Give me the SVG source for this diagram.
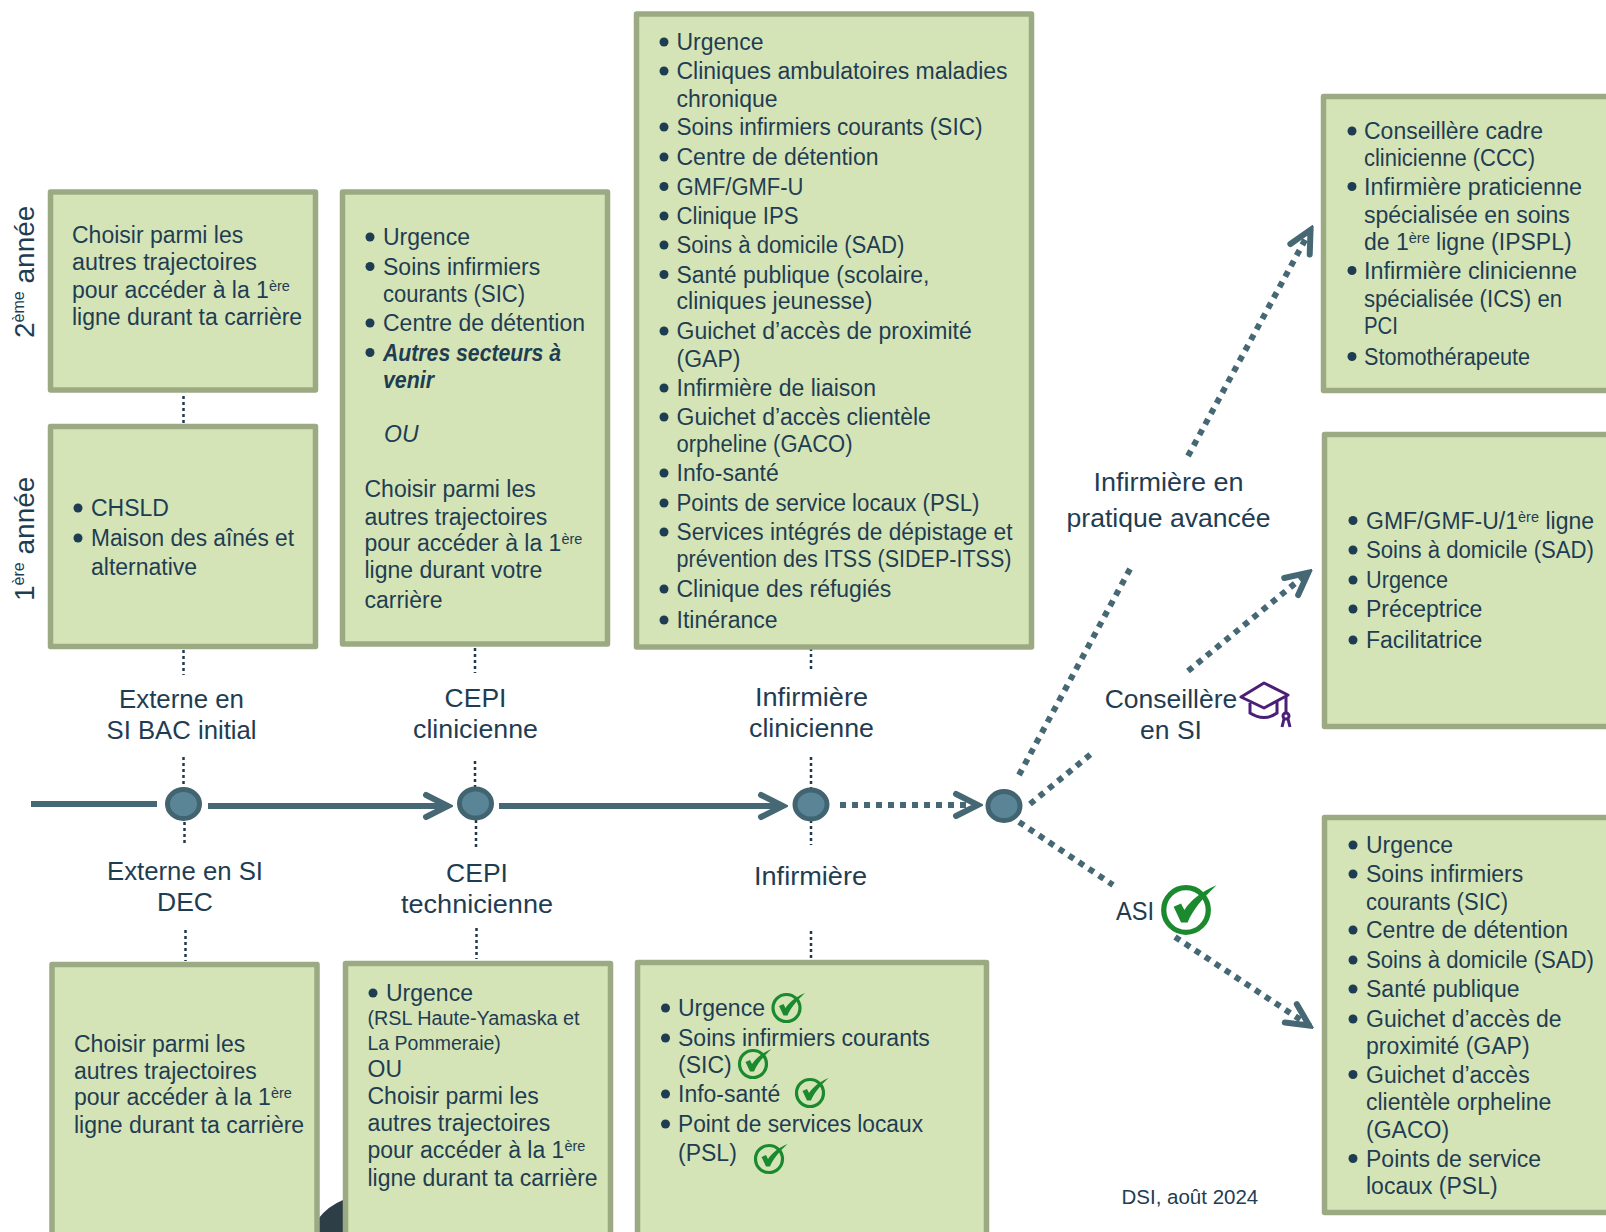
<svg xmlns="http://www.w3.org/2000/svg" width="1606" height="1232" viewBox="0 0 1606 1232">
<defs>
<style>
text{font-family:"Liberation Sans",Arial,sans-serif;fill:#1f3d52;font-size:23px}
.lab{font-size:26.5px;text-anchor:middle}
.small{font-size:19.5px}
.box{fill:#d5e4b6;stroke:#9caa84;stroke-width:5.5;stroke-linejoin:round}
.dot{fill:#5a8597;stroke:#426470;stroke-width:5}
.sol{fill:none;stroke:#466874;stroke-width:6}
.dash{fill:none;stroke:#466874;stroke-width:6;stroke-dasharray:6 6}
.tick{fill:none;stroke:#1f3a4f;stroke-width:2.5;stroke-dasharray:3 3}
.sup{font-size:14.5px}
.b{fill:#1f3d52;r:4.5px}
</style>
<marker id="ah" markerUnits="userSpaceOnUse" markerWidth="34" markerHeight="38" viewBox="0 0 34 38" refX="30" refY="19" orient="auto"><path d="M7,8 L29,19 L7,30" fill="none" stroke="#466874" stroke-width="6" stroke-linecap="round"/></marker>
<g id="chk"><circle cx="0" cy="0" r="13.500" fill="none" stroke="#1b8a2f" stroke-width="3.200"/><path d="M-7.500,-2 L-3,-4 L-1,0 C3,-6 9,-11 18.500,-15 C10,-7 4,0 1,7.500 L-3,7.500 Z" fill="#1b8a2f"/></g>
</defs>
<rect width="1606" height="1232" fill="#fff"/>
<path id="corner-shape" d="M318,1232 L318,1219 Q328,1206 343,1200 L343,1232 Z" fill="#2e3e47"/>
<g id="connectors">
<path class="sol" d="M31,804H157"/>
<path class="sol" d="M208,806H449" marker-end="url(#ah)"/>
<path class="sol" d="M499,806H784" marker-end="url(#ah)"/>
<path class="dash" d="M840,805H979" marker-end="url(#ah)"/>
<path class="dash" d="M1019,775L1130,569"/>
<path class="dash" d="M1188,456L1311,229" marker-end="url(#ah)"/>
<path class="dash" d="M1030,804L1091,754"/>
<path class="dash" d="M1188,671L1309,572" marker-end="url(#ah)"/>
<path class="dash" d="M1019,822L1113,885"/>
<path class="dash" d="M1175,937L1310,1026" marker-end="url(#ah)"/>
<path class="tick" d="M183.500,396V424M183.500,650V675M183.500,757V788M184.500,822V845M185.500,930V961M475,648V673M475,761V788M476,820V847M476.500,928V959M811,648V671M811,757V788M811,820V845M811,931V959"/>
</g>
<g id="timeline-dots">
<ellipse id="dot-1" class="dot" cx="183.500" cy="804" rx="16" ry="14.500"/>
<ellipse id="dot-2" class="dot" cx="475.500" cy="803.500" rx="16" ry="14.500"/>
<ellipse id="dot-3" class="dot" cx="811" cy="804.500" rx="16" ry="14.500"/>
<ellipse id="dot-4" class="dot" cx="1004" cy="806" rx="16" ry="14.500"/>
</g>
<g id="year-labels">
<text transform="translate(34,338) rotate(-90)" style="font-size:28px">2<tspan class="sup" dy="-10" style="font-size:16px">ème</tspan><tspan dy="10"> année</tspan></text>
<text transform="translate(34,601) rotate(-90)" style="font-size:28px">1<tspan class="sup" dy="-10" style="font-size:16px">ère</tspan><tspan dy="10"> année</tspan></text>
</g>
<g id="box-2e-annee"><rect class="box" x="50.500" y="192" width="265" height="198"/>
<g transform="translate(0,1)"><text x="72" y="242">Choisir parmi les</text><text x="72" y="269" textLength="185" lengthAdjust="spacingAndGlyphs">autres trajectoires</text><text x="72" y="297">pour accéder à la 1<tspan class="sup" dy="-7">ère</tspan></text><text x="72" y="324">ligne durant ta carrière</text></g></g>
<g id="box-1e-annee"><rect class="box" x="50.500" y="426.500" width="265" height="220"/>
<g transform="translate(0,1)"><circle class="b" cx="78" cy="507" r="4.500"/><text x="91" y="515">CHSLD</text><circle class="b" cx="78" cy="537" r="4.500"/><text x="91" y="545" textLength="203" lengthAdjust="spacingAndGlyphs">Maison des aînés et</text><text x="91" y="573.500">alternative</text></g></g>
<g id="box-cepi-clinicienne"><rect class="box" x="342.500" y="192" width="265" height="452"/>
<g transform="translate(0,1)"><circle class="b" cx="370" cy="236" r="4.500"/><text x="383" y="244">Urgence</text><circle class="b" cx="370" cy="265.500" r="4.500"/><text x="383" y="273.500">Soins infirmiers</text><text x="383" y="301" textLength="142" lengthAdjust="spacingAndGlyphs">courants (SIC)</text><circle class="b" cx="370" cy="322" r="4.500"/><text x="383" y="330">Centre de détention</text><circle class="b" cx="370" cy="351.500" r="4.500"/><text x="383" y="359.500" font-weight="bold" font-style="italic" textLength="178" lengthAdjust="spacingAndGlyphs">Autres secteurs à</text><text x="383" y="387" font-weight="bold" font-style="italic" textLength="51" lengthAdjust="spacingAndGlyphs">venir</text><text x="384" y="441" font-style="italic">OU</text>
<text x="364.500" y="496">Choisir parmi les</text><text x="364.500" y="523.500">autres trajectoires</text><text x="364.500" y="550">pour accéder à la 1<tspan class="sup" dy="-7">ère</tspan></text><text x="364.500" y="576.500">ligne durant votre</text><text x="364.500" y="607">carrière</text></g></g>
<g id="box-infirmiere-clinicienne"><rect class="box" x="636.500" y="14" width="395" height="633"/>
<g transform="translate(0,1)">
<circle class="b" cx="664" cy="41" r="4.500"/><text x="676.500" y="49">Urgence</text>
<circle class="b" cx="664" cy="70" r="4.500"/><text x="676.500" y="78">Cliniques ambulatoires maladies</text><text x="676.500" y="105.500">chronique</text>
<circle class="b" cx="664" cy="126" r="4.500"/><text x="676.500" y="134" textLength="306" lengthAdjust="spacingAndGlyphs">Soins infirmiers courants (SIC)</text>
<circle class="b" cx="664" cy="156" r="4.500"/><text x="676.500" y="164">Centre de détention</text>
<circle class="b" cx="664" cy="185.500" r="4.500"/><text x="676.500" y="193.500" textLength="127" lengthAdjust="spacingAndGlyphs">GMF/GMF-U</text>
<circle class="b" cx="664" cy="215" r="4.500"/><text x="676.500" y="223" textLength="122" lengthAdjust="spacingAndGlyphs">Clinique IPS</text>
<circle class="b" cx="664" cy="244" r="4.500"/><text x="676.500" y="252" textLength="228" lengthAdjust="spacingAndGlyphs">Soins à domicile (SAD)</text>
<circle class="b" cx="664" cy="273.500" r="4.500"/><text x="676.500" y="281.500" textLength="253" lengthAdjust="spacingAndGlyphs">Santé publique (scolaire,</text><text x="676.500" y="308" textLength="196" lengthAdjust="spacingAndGlyphs">cliniques jeunesse)</text>
<circle class="b" cx="664" cy="330" r="4.500"/><text x="676.500" y="338">Guichet d’accès de proximité</text><text x="676.500" y="366">(GAP)</text>
<circle class="b" cx="664" cy="387" r="4.500"/><text x="676.500" y="395">Infirmière de liaison</text>
<circle class="b" cx="664" cy="416" r="4.500"/><text x="676.500" y="424">Guichet d’accès clientèle</text><text x="676.500" y="451" textLength="176" lengthAdjust="spacingAndGlyphs">orpheline (GACO)</text>
<circle class="b" cx="664" cy="472" r="4.500"/><text x="676.500" y="480">Info-santé</text>
<circle class="b" cx="664" cy="502" r="4.500"/><text x="676.500" y="510" textLength="303" lengthAdjust="spacingAndGlyphs">Points de service locaux (PSL)</text>
<circle class="b" cx="664" cy="531" r="4.500"/><text x="676.500" y="539" textLength="336" lengthAdjust="spacingAndGlyphs">Services intégrés de dépistage et</text><text x="676.500" y="566" textLength="335" lengthAdjust="spacingAndGlyphs">prévention des ITSS (SIDEP-ITSS)</text>
<circle class="b" cx="664" cy="588" r="4.500"/><text x="676.500" y="596">Clinique des réfugiés</text>
<circle class="b" cx="664" cy="619" r="4.500"/><text x="676.500" y="627">Itinérance</text>
</g></g>
<g id="box-ipa"><rect class="box" x="1323.500" y="96.500" width="300" height="294"/>
<g transform="translate(0,1)"><circle class="b" cx="1352" cy="130" r="4.500"/><text x="1364" y="138">Conseillère cadre</text><text x="1364" y="165" textLength="171" lengthAdjust="spacingAndGlyphs">clinicienne (CCC)</text>
<circle class="b" cx="1352" cy="185.500" r="4.500"/><text x="1364" y="193.500" textLength="218" lengthAdjust="spacingAndGlyphs">Infirmière praticienne</text><text x="1364" y="222">spécialisée en soins</text><text x="1364" y="249">de 1<tspan class="sup" dy="-7">ère</tspan><tspan dy="7"> ligne (IPSPL)</tspan></text>
<circle class="b" cx="1352" cy="269.500" r="4.500"/><text x="1364" y="277.500" textLength="213" lengthAdjust="spacingAndGlyphs">Infirmière clinicienne</text><text x="1364" y="306" textLength="198" lengthAdjust="spacingAndGlyphs">spécialisée (ICS) en</text><text x="1364" y="333" textLength="34" lengthAdjust="spacingAndGlyphs">PCI</text>
<circle class="b" cx="1352" cy="355.500" r="4.500"/><text x="1364" y="363.500" textLength="166" lengthAdjust="spacingAndGlyphs">Stomothérapeute</text></g></g>
<g id="box-conseillere"><rect class="box" x="1324.500" y="434.500" width="300" height="292"/>
<g transform="translate(0,1)"><circle class="b" cx="1353" cy="519.500" r="4.500"/><text x="1366" y="527.500">GMF/GMF-U/1<tspan class="sup" dy="-7">ère</tspan><tspan dy="7"> ligne</tspan></text>
<circle class="b" cx="1353" cy="549" r="4.500"/><text x="1366" y="557" textLength="228" lengthAdjust="spacingAndGlyphs">Soins à domicile (SAD)</text>
<circle class="b" cx="1353" cy="579" r="4.500"/><text x="1366" y="587" textLength="82" lengthAdjust="spacingAndGlyphs">Urgence</text>
<circle class="b" cx="1353" cy="608" r="4.500"/><text x="1366" y="616">Préceptrice</text>
<circle class="b" cx="1353" cy="639" r="4.500"/><text x="1366" y="647">Facilitatrice</text></g></g>
<g id="box-asi"><rect class="box" x="1324.500" y="817.500" width="300" height="395"/>
<g transform="translate(0,1)"><circle class="b" cx="1353" cy="844" r="4.500"/><text x="1366" y="852">Urgence</text>
<circle class="b" cx="1353" cy="873" r="4.500"/><text x="1366" y="881">Soins infirmiers</text><text x="1366" y="908.500" textLength="142" lengthAdjust="spacingAndGlyphs">courants (SIC)</text>
<circle class="b" cx="1353" cy="929" r="4.500"/><text x="1366" y="937">Centre de détention</text>
<circle class="b" cx="1353" cy="959" r="4.500"/><text x="1366" y="967" textLength="228" lengthAdjust="spacingAndGlyphs">Soins à domicile (SAD)</text>
<circle class="b" cx="1353" cy="988" r="4.500"/><text x="1366" y="996">Santé publique</text>
<circle class="b" cx="1353" cy="1018" r="4.500"/><text x="1366" y="1026">Guichet d’accès de</text><text x="1366" y="1053">proximité (GAP)</text>
<circle class="b" cx="1353" cy="1073.500" r="4.500"/><text x="1366" y="1081.500">Guichet d’accès</text><text x="1366" y="1109">clientèle orpheline</text><text x="1366" y="1137">(GACO)</text>
<circle class="b" cx="1353" cy="1157.500" r="4.500"/><text x="1366" y="1165.500">Points de service</text><text x="1366" y="1193">locaux (PSL)</text></g></g>
<g id="box-externe-dec"><rect class="box" x="52" y="964.500" width="265" height="300"/>
<g transform="translate(0,1)"><text x="74" y="1051">Choisir parmi les</text><text x="74" y="1078">autres trajectoires</text><text x="74" y="1104">pour accéder à la 1<tspan class="sup" dy="-7">ère</tspan></text><text x="74" y="1132">ligne durant ta carrière</text></g></g>
<g id="box-cepi-technicienne"><rect class="box" x="345.500" y="963.500" width="265" height="300"/>
<g transform="translate(0,1)"><circle class="b" cx="373" cy="992" r="4.500"/><text x="386" y="1000">Urgence</text><text class="small" x="367.500" y="1024" textLength="212" lengthAdjust="spacingAndGlyphs">(RSL Haute-Yamaska et</text><text class="small" x="367.500" y="1049">La Pommeraie)</text><text x="367.500" y="1075.500">OU</text><text x="367.500" y="1103">Choisir parmi les</text><text x="367.500" y="1130">autres trajectoires</text><text x="367.500" y="1157">pour accéder à la 1<tspan class="sup" dy="-7">ère</tspan></text><text x="367.500" y="1185">ligne durant ta carrière</text></g></g>
<g id="box-infirmiere"><rect class="box" x="637.500" y="962.500" width="349" height="300"/>
<g transform="translate(0,1)"><circle class="b" cx="665.500" cy="1007" r="4.500"/><text x="678" y="1015">Urgence</text>
<circle class="b" cx="665.500" cy="1037" r="4.500"/><text x="678" y="1045">Soins infirmiers courants</text><text x="678" y="1072">(SIC)</text>
<circle class="b" cx="665.500" cy="1093" r="4.500"/><text x="678" y="1101">Info-santé</text>
<circle class="b" cx="665.500" cy="1123" r="4.500"/><text x="678" y="1131" textLength="245" lengthAdjust="spacingAndGlyphs">Point de services locaux</text><text x="678" y="1160">(PSL)</text></g>
<use href="#chk" x="786.500" y="1008"/><use href="#chk" x="753" y="1064"/><use href="#chk" x="810" y="1093"/><use href="#chk" x="769" y="1159"/></g>
<g id="label-externe-bac"><text class="lab" x="181.500" y="708" textLength="125" lengthAdjust="spacingAndGlyphs">Externe en</text><text class="lab" x="181.500" y="739" textLength="150" lengthAdjust="spacingAndGlyphs">SI BAC initial</text></g>
<g id="label-cepi-clinicienne"><text class="lab" x="475.500" y="707">CEPI</text><text class="lab" x="475.500" y="738" textLength="125" lengthAdjust="spacingAndGlyphs">clinicienne</text></g>
<g id="label-infirmiere-clinicienne"><text class="lab" x="811.500" y="706" textLength="113" lengthAdjust="spacingAndGlyphs">Infirmière</text><text class="lab" x="811.500" y="737" textLength="125" lengthAdjust="spacingAndGlyphs">clinicienne</text></g>
<g id="label-externe-dec"><text class="lab" x="185" y="880" textLength="156" lengthAdjust="spacingAndGlyphs">Externe en SI</text><text class="lab" x="185" y="911">DEC</text></g>
<g id="label-cepi-technicienne"><text class="lab" x="477" y="882">CEPI</text><text class="lab" x="477" y="913" textLength="152" lengthAdjust="spacingAndGlyphs">technicienne</text></g>
<g id="label-infirmiere"><text class="lab" x="810.500" y="884.500" textLength="113" lengthAdjust="spacingAndGlyphs">Infirmière</text></g>
<g id="label-ipa"><text class="lab" x="1168.500" y="491" textLength="150" lengthAdjust="spacingAndGlyphs">Infirmière en</text><text class="lab" x="1168.500" y="526.500" textLength="204" lengthAdjust="spacingAndGlyphs">pratique avancée</text></g>
<g id="label-conseillere"><text class="lab" x="1171" y="708">Conseillère</text><text class="lab" x="1171" y="739">en SI</text>
<g fill="none" stroke="#4b1e78" stroke-width="3"><path d="M1241,697L1264,683L1288,695L1264,708Z" stroke-linejoin="round"/><path d="M1250,703V713Q1264,722 1277,713V702"/><path d="M1286,696V712"/><circle cx="1286" cy="716" r="3"/><path d="M1284,719L1282,727M1288,719L1290,727"/></g></g>
<g id="label-asi"><text class="lab" x="1116" y="920" style="text-anchor:start" textLength="38" lengthAdjust="spacingAndGlyphs">ASI</text><use href="#chk" transform="translate(1186,910) scale(1.650)"/></g>
<text id="credit" x="1121.500" y="1204" style="font-size:20.500px">DSI, août 2024</text>
</svg>
